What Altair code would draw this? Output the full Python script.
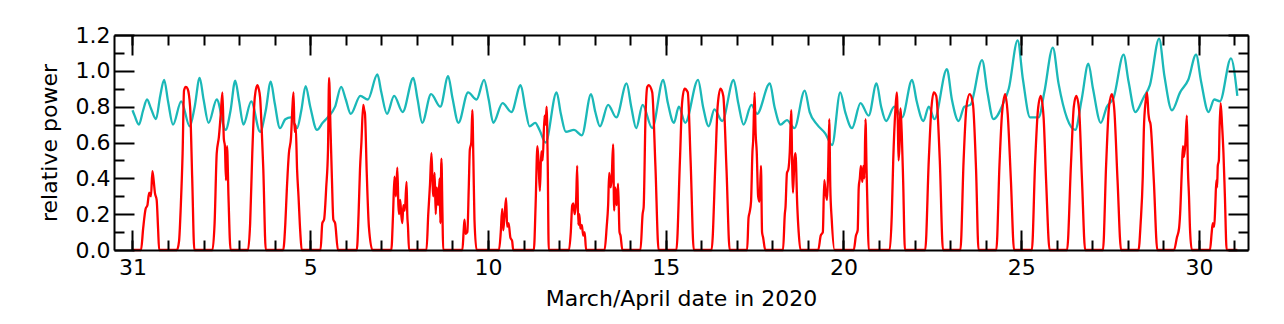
import altair as alt
import pandas as pd

# ---- data (day 0 = 31 March, 00:00) ----
cyan_points = [
    (0.00, 0.78), (0.06, 0.75), (0.18, 0.70), (0.30, 0.78), (0.41, 0.84), (0.52, 0.79), (0.66, 0.73), (0.78, 0.86), (0.89, 0.95),
    (1.00, 0.83), (1.14, 0.70), (1.37, 0.83), (1.61, 0.69), (1.75, 0.80), (1.89, 0.96),
    (2.00, 0.84), (2.14, 0.71), (2.37, 0.84), (2.62, 0.67), (2.76, 0.78), (2.89, 0.945),
    (3.00, 0.83), (3.12, 0.70), (3.34, 0.83), (3.59, 0.66), (3.75, 0.78), (3.89, 0.94),
    (4.00, 0.82), (4.15, 0.68), (4.30, 0.73), (4.45, 0.74), (4.63, 0.68), (4.75, 0.78), (4.87, 0.915),
    (5.00, 0.80), (5.19, 0.67), (5.35, 0.71), (5.49, 0.74), (5.70, 0.80), (5.87, 0.91),
    (6.00, 0.84), (6.14, 0.76), (6.41, 0.86), (6.62, 0.84), (6.89, 0.98),
    (7.00, 0.88), (7.16, 0.76), (7.36, 0.86), (7.60, 0.77), (7.90, 0.96),
    (8.02, 0.84), (8.15, 0.71), (8.40, 0.87), (8.66, 0.80), (8.88, 0.97),
    (9.00, 0.85), (9.17, 0.71), (9.44, 0.88), (9.68, 0.84), (9.89, 0.95),
    (10.02, 0.84), (10.15, 0.71), (10.41, 0.82), (10.66, 0.77), (10.92, 0.92),
    (11.05, 0.79), (11.17, 0.69), (11.33, 0.71), (11.45, 0.67), (11.62, 0.60), (11.93, 0.88),
    (12.05, 0.76), (12.19, 0.66), (12.42, 0.67), (12.64, 0.64), (12.90, 0.87),
    (13.02, 0.77), (13.15, 0.69), (13.38, 0.81), (13.61, 0.74), (13.90, 0.93),
    (14.03, 0.80), (14.17, 0.68), (14.35, 0.81), (14.62, 0.68), (14.93, 0.95),
    (15.06, 0.82), (15.23, 0.71), (15.37, 0.80), (15.55, 0.71), (15.91, 0.95),
    (16.05, 0.80), (16.21, 0.69), (16.37, 0.785), (16.59, 0.72), (16.91, 0.95),
    (17.04, 0.82), (17.19, 0.70), (17.41, 0.81), (17.57, 0.76), (17.93, 0.93),
    (18.06, 0.80), (18.23, 0.70), (18.41, 0.725), (18.62, 0.68), (18.91, 0.89),
    (19.05, 0.77), (19.26, 0.70), (19.49, 0.65), (19.68, 0.586), (19.91, 0.88),
    (20.05, 0.77), (20.24, 0.68), (20.48, 0.82), (20.71, 0.75), (20.93, 0.93),
    (21.06, 0.80), (21.20, 0.72), (21.43, 0.80), (21.65, 0.74), (21.93, 0.95),
    (22.06, 0.83), (22.25, 0.72), (22.40, 0.80), (22.56, 0.73), (22.91, 1.01),
    (23.05, 0.84), (23.24, 0.72), (23.40, 0.80), (23.57, 0.81), (23.90, 1.06),
    (24.05, 0.88), (24.22, 0.73), (24.50, 0.82), (24.65, 0.90), (24.90, 1.17),
    (25.05, 0.95), (25.25, 0.74), (25.49, 0.74), (25.65, 0.88), (25.89, 1.13),
    (26.05, 0.93), (26.29, 0.735), (26.52, 0.67), (26.70, 0.84), (26.89, 1.04),
    (27.02, 0.90), (27.24, 0.71), (27.41, 0.80), (27.60, 0.85), (27.88, 1.09),
    (28.02, 0.94), (28.21, 0.77), (28.44, 0.85), (28.62, 0.92), (28.88, 1.18),
    (29.03, 0.97), (29.24, 0.78), (29.47, 0.88), (29.70, 0.95), (29.92, 1.09),
    (30.06, 0.94), (30.27, 0.77), (30.43, 0.84), (30.59, 0.83), (30.90, 1.07),
    (31.08, 0.86),
]

red_points = [
    (0.00, 0.0), (0.24, 0.0), (0.30, 0.12), (0.37, 0.23), (0.42, 0.25), (0.47, 0.32), (0.52, 0.30), (0.56, 0.44), (0.60, 0.38), (0.63, 0.32), (0.68, 0.28), (0.72, 0.12), (0.75, 0.0),
    (1.25, 0.0), (1.31, 0.05), (1.36, 0.25), (1.41, 0.54), (1.45, 0.89), (1.50, 0.91), (1.55, 0.90), (1.62, 0.80), (1.68, 0.40), (1.74, 0.0),
    (2.25, 0.0), (2.31, 0.15), (2.37, 0.54), (2.43, 0.63), (2.48, 0.75), (2.53, 0.88), (2.57, 0.62), (2.60, 0.58), (2.63, 0.39), (2.66, 0.58), (2.70, 0.30), (2.76, 0.0),
    (3.25, 0.0), (3.31, 0.15), (3.37, 0.54), (3.44, 0.85), (3.51, 0.92), (3.55, 0.90), (3.59, 0.85), (3.64, 0.65), (3.68, 0.45), (3.75, 0.0),
    (4.24, 0.0), (4.30, 0.15), (4.34, 0.33), (4.40, 0.54), (4.46, 0.63), (4.50, 0.80), (4.53, 0.88), (4.56, 0.66), (4.59, 0.70), (4.63, 0.45), (4.67, 0.30), (4.72, 0.10), (4.76, 0.0),
    (5.29, 0.0), (5.34, 0.15), (5.39, 0.17), (5.45, 0.35), (5.50, 0.56), (5.53, 0.96), (5.57, 0.68), (5.61, 0.40), (5.65, 0.17), (5.70, 0.15), (5.78, 0.0),
    (6.31, 0.0), (6.36, 0.20), (6.40, 0.45), (6.44, 0.60), (6.49, 0.81), (6.52, 0.78), (6.54, 0.76), (6.59, 0.43), (6.65, 0.13), (6.75, 0.0),
    (7.28, 0.0), (7.33, 0.20), (7.37, 0.41), (7.41, 0.30), (7.45, 0.46), (7.48, 0.25), (7.50, 0.20), (7.53, 0.28), (7.56, 0.20), (7.59, 0.15), (7.62, 0.25), (7.66, 0.22), (7.71, 0.38), (7.73, 0.20), (7.75, 0.13), (7.78, 0.0),
    (8.27, 0.0), (8.32, 0.20), (8.37, 0.37), (8.41, 0.54), (8.44, 0.38), (8.46, 0.30), (8.50, 0.43), (8.53, 0.20), (8.56, 0.35), (8.60, 0.25), (8.64, 0.40), (8.66, 0.15), (8.69, 0.51), (8.72, 0.20), (8.74, 0.0),
    (9.28, 0.0), (9.32, 0.12), (9.34, 0.17), (9.37, 0.09), (9.42, 0.10), (9.46, 0.35), (9.49, 0.56), (9.53, 0.60), (9.56, 0.78), (9.59, 0.50), (9.62, 0.17), (9.68, 0.0),
    (10.31, 0.0), (10.36, 0.10), (10.40, 0.23), (10.43, 0.11), (10.47, 0.20), (10.51, 0.29), (10.54, 0.13), (10.58, 0.15), (10.63, 0.07), (10.68, 0.05), (10.71, 0.0),
    (11.29, 0.0), (11.34, 0.25), (11.39, 0.58), (11.42, 0.50), (11.46, 0.33), (11.50, 0.55), (11.54, 0.50), (11.59, 0.75), (11.62, 0.70), (11.65, 0.80), (11.68, 0.50), (11.71, 0.0),
    (12.28, 0.0), (12.33, 0.10), (12.37, 0.25), (12.40, 0.26), (12.44, 0.20), (12.48, 0.28), (12.51, 0.47), (12.54, 0.14), (12.57, 0.20), (12.60, 0.12), (12.64, 0.14), (12.68, 0.08), (12.72, 0.10), (12.76, 0.0),
    (13.28, 0.0), (13.34, 0.13), (13.38, 0.25), (13.41, 0.43), (13.45, 0.35), (13.48, 0.40), (13.52, 0.59), (13.55, 0.22), (13.58, 0.35), (13.62, 0.25), (13.66, 0.37), (13.70, 0.10), (13.73, 0.08), (13.78, 0.0),
    (14.29, 0.0), (14.35, 0.20), (14.38, 0.24), (14.43, 0.73), (14.48, 0.91), (14.52, 0.92), (14.62, 0.88), (14.71, 0.47), (14.80, 0.0),
    (15.30, 0.0), (15.40, 0.50), (15.46, 0.82), (15.53, 0.90), (15.62, 0.88), (15.70, 0.50), (15.79, 0.0),
    (16.29, 0.0), (16.40, 0.50), (16.46, 0.80), (16.54, 0.90), (16.62, 0.86), (16.71, 0.45), (16.80, 0.0),
    (17.29, 0.0), (17.33, 0.18), (17.36, 0.21), (17.40, 0.27), (17.44, 0.55), (17.46, 0.61), (17.50, 0.88), (17.53, 0.65), (17.56, 0.55), (17.60, 0.30), (17.64, 0.27), (17.68, 0.47), (17.71, 0.10), (17.74, 0.07), (17.80, 0.0),
    (18.30, 0.0), (18.35, 0.20), (18.37, 0.24), (18.41, 0.43), (18.45, 0.45), (18.49, 0.55), (18.53, 0.78), (18.56, 0.45), (18.58, 0.32), (18.62, 0.50), (18.65, 0.54), (18.70, 0.25), (18.74, 0.10), (18.79, 0.0),
    (19.29, 0.0), (19.36, 0.08), (19.42, 0.10), (19.46, 0.39), (19.50, 0.32), (19.54, 0.28), (19.57, 0.45), (19.60, 0.73), (19.63, 0.35), (19.67, 0.17), (19.75, 0.0),
    (20.29, 0.0), (20.35, 0.08), (20.40, 0.11), (20.43, 0.35), (20.46, 0.40), (20.49, 0.47), (20.53, 0.38), (20.56, 0.47), (20.59, 0.40), (20.62, 0.73), (20.65, 0.45), (20.68, 0.20), (20.71, 0.0),
    (21.30, 0.0), (21.36, 0.20), (21.40, 0.50), (21.46, 0.78), (21.50, 0.88), (21.53, 0.70), (21.55, 0.50), (21.58, 0.60), (21.60, 0.79), (21.64, 0.65), (21.68, 0.38), (21.73, 0.0),
    (22.30, 0.0), (22.40, 0.50), (22.47, 0.78), (22.54, 0.88), (22.61, 0.86), (22.71, 0.50), (22.80, 0.0),
    (23.29, 0.0), (23.38, 0.50), (23.46, 0.80), (23.55, 0.87), (23.64, 0.82), (23.73, 0.45), (23.80, 0.0),
    (24.30, 0.0), (24.39, 0.48), (24.46, 0.76), (24.55, 0.87), (24.62, 0.76), (24.71, 0.39), (24.80, 0.0),
    (25.30, 0.0), (25.39, 0.48), (25.47, 0.78), (25.55, 0.86), (25.63, 0.74), (25.70, 0.39), (25.80, 0.0),
    (26.29, 0.0), (26.40, 0.48), (26.48, 0.80), (26.55, 0.86), (26.63, 0.78), (26.71, 0.39), (26.80, 0.0),
    (27.30, 0.0), (27.39, 0.48), (27.47, 0.80), (27.55, 0.87), (27.62, 0.78), (27.71, 0.39), (27.81, 0.0),
    (28.30, 0.0), (28.36, 0.15), (28.42, 0.41), (28.45, 0.67), (28.50, 0.83), (28.54, 0.88), (28.58, 0.76), (28.60, 0.73), (28.64, 0.70), (28.73, 0.39), (28.83, 0.0),
    (29.30, 0.0), (29.38, 0.07), (29.44, 0.12), (29.47, 0.20), (29.52, 0.45), (29.55, 0.58), (29.58, 0.52), (29.62, 0.60), (29.66, 0.75), (29.69, 0.45), (29.72, 0.30), (29.75, 0.11), (29.80, 0.0),
    (30.31, 0.0), (30.36, 0.10), (30.39, 0.15), (30.43, 0.13), (30.46, 0.25), (30.49, 0.39), (30.51, 0.35), (30.53, 0.47), (30.56, 0.50), (30.58, 0.68), (30.61, 0.82), (30.65, 0.70), (30.69, 0.54), (30.73, 0.30), (30.78, 0.0),
    (31.08, 0.0),
]

x_major_ticks = [0, 5, 10, 15, 20, 25, 30]
x_minor_ticks = list(range(0, 32))
y_major_ticks = [0.0, 0.2, 0.4, 0.6, 0.8, 1.0, 1.2]
y_minor_ticks = [0.1, 0.3, 0.5, 0.7, 0.9, 1.1]
x_domain = [-0.52, 31.38]
y_domain = [0.0, 1.2]

x_title = "March/April date in 2020"
y_title = "relative power"

CYAN = "#1bb8b8"
RED = "#ff0000"
FONT = "DejaVu Sans"
FS = 22

cyan_df = pd.DataFrame(cyan_points, columns=["day", "power"])
red_df = pd.DataFrame(red_points, columns=["day", "power"])

xs = alt.Scale(domain=x_domain, nice=False, zero=False)
ys = alt.Scale(domain=y_domain, nice=False, zero=False)


def make_axis(orient, values, size, labels=False, title="", domain=False, pad=0, **kw):
    return alt.Axis(
        orient=orient, values=values, tickSize=alt.ExprRef(expr=str(-size)),
        ticks=True, tickColor="black", tickWidth=2,
        labels=labels, labelPadding=pad, labelFont=FONT, labelFontSize=FS, labelColor="black",
        labelFlush=False, labelOverlap=False,
        domain=domain, domainColor="black", domainWidth=2,
        grid=False, title=title, titleFont=FONT, titleFontSize=FS,
        titleFontWeight="normal", titleColor="black", zindex=1, **kw
    )


ax_bottom = make_axis("bottom", x_major_ticks, 20, labels=True, title=x_title, domain=True, pad=27,
                      labelExpr="datum.value == 0 ? '31' : datum.label", titlePadding=10)
ax_left = make_axis("left", y_major_ticks, 20, labels=True, title=y_title, domain=True, pad=24,
                    format=".1f", titlePadding=14)
ax_top = make_axis("top", x_major_ticks, 20, domain=True)
ax_right = make_axis("right", y_major_ticks, 20, domain=True)
ax_bottom_minor = make_axis("bottom", x_minor_ticks, 10)
ax_left_minor = make_axis("left", y_minor_ticks, 10)
ax_top_minor = make_axis("top", x_minor_ticks, 10)
ax_right_minor = make_axis("right", y_minor_ticks, 10)

cyan_line = alt.Chart(cyan_df).mark_line(color=CYAN, strokeWidth=2.3, interpolate="monotone").encode(
    x=alt.X("day:Q", scale=xs, axis=ax_bottom),
    y=alt.Y("power:Q", scale=ys, axis=ax_left),
)
red_line = alt.Chart(red_df).mark_line(color=RED, strokeWidth=2.3, interpolate="monotone").encode(
    x=alt.X("day:Q", scale=xs, axis=ax_top),
    y=alt.Y("power:Q", scale=ys, axis=ax_right),
)
minor1 = alt.Chart(red_df).mark_line(opacity=0).encode(
    x=alt.X("day:Q", scale=xs, axis=ax_bottom_minor),
    y=alt.Y("power:Q", scale=ys, axis=ax_left_minor),
)
minor2 = alt.Chart(red_df).mark_line(opacity=0).encode(
    x=alt.X("day:Q", scale=xs, axis=ax_top_minor),
    y=alt.Y("power:Q", scale=ys, axis=ax_right_minor),
)

chart = alt.layer(cyan_line, red_line, minor1, minor2).resolve_axis(
    x="independent", y="independent"
).properties(
    width=1134, height=215,
    padding={"left": 114, "top": 35, "right": 36, "bottom": 74},
    autosize=alt.AutoSizeParams(type="none"),
    background="white",
).configure_view(stroke=None)

chart.save("out.html", embed_options={"renderer": "svg", "actions": False})
